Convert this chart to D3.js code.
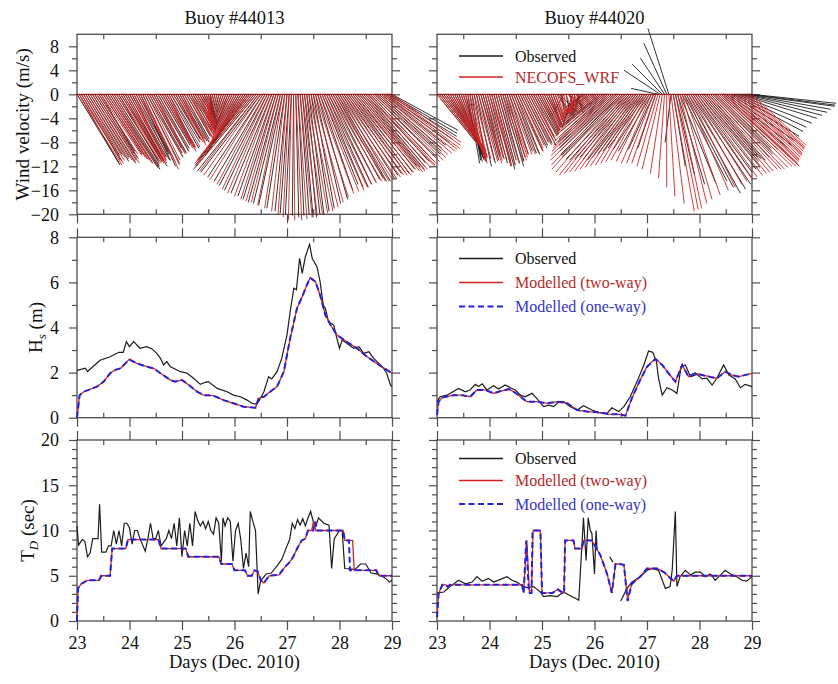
<!DOCTYPE html>
<html>
<head>
<meta charset="utf-8">
<script src="https://cdn.jsdelivr.net/npm/d3@7"></script>
<style>
  body { margin: 0; background: #fff; }
  svg text { font-family: "Liberation Serif", "DejaVu Serif", "Times New Roman", serif; }
</style>
</head>
<body>
<svg id="chart" width="838" height="684"></svg>
<script>
// ---- data ----
const buoys = ["Buoy #44013", "Buoy #44020"]
const days = [23, 24, 25, 26, 27, 28, 29]
const halfDays = [23.5, 24.5, 25.5, 26.5, 27.5, 28.5]
const windTicks = [-20, -16, -12, -8, -4, 0, 4, 8]
const windMinor = [-18, -14, -10, -6, -2, 2, 6]
const hsTicks = [0, 2, 4, 6, 8]
const hsMinor = [1, 3, 5, 7]
const tdTicks = [0, 5, 10, 15, 20]
const tdMinor = [1, 2, 3, 4, 6, 7, 8, 9, 11, 12, 13, 14, 16, 17, 18, 19]

// hourly wind sticks from Dec 23 00h to Dec 29 00h, [u, v] in m/s
const stickStart = 23, stickStepHours = 1
const wind44013Obs = [
  [7.0,-11.5],[6.8,-11.8],[6.5,-11.0],[6.0,-10.2],[6.0,-10.0],[6.8,-11.2],[6.5,-10.5],[7.2,-11.5],[7.0,-11.0],[6.2,-9.8],[6.0,-9.5],[6.0,-10.5],
  [6.5,-10.0],[7.0,-10.8],[7.5,-11.5],[8.0,-12.2],[8.0,-12.5],[7.5,-12.0],[7.0,-11.0],[6.8,-11.5],[6.5,-10.5],[6.5,-11.2],[7.0,-12.0],[6.0,-11.0],
  [5.5,-10.0],[5.8,-10.5],[6.0,-11.0],[5.5,-10.0],[5.0,-9.5],[5.0,-11.0],[5.5,-12.0],[5.8,-11.5],[6.0,-10.5],[5.5,-9.8],[5.0,-9.0],[5.5,-9.8],
  [5.5,-9.5],[5.2,-9.0],[5.0,-8.5],[4.8,-8.2],[4.5,-8.0],[4.8,-8.8],[5.0,-9.0],[4.8,-8.0],[4.5,-7.5],[4.2,-7.5],[4.0,-7.0],[4.5,-7.8],
  [4.5,-8.0],[4.2,-7.5],[4.0,-7.0],[4.2,-6.8],[4.0,-6.5],[3.8,-6.2],[3.5,-6.0],[3.2,-5.5],[3.0,-5.0],[2.5,-4.5],[2.0,-4.0],[1.5,-3.5],
  [1.0,-3.0],[0.2,-3.2],[-0.5,-3.5],[-0.8,-3.8],[-1.0,-4.0],[-1.2,-4.5],[-1.5,-5.0],[-1.8,-5.2],[-2.0,-5.5],[-2.2,-5.8],[-2.5,-5.5],[-2.8,-5.8],
  [-3.0,-6.0],[-3.2,-6.2],[-3.5,-6.5],[-4.2,-7.2],[-5.0,-8.0],[-6.0,-9.0],[-7.0,-10.0],[-8.2,-10.5],[-9.0,-11.0],[-9.8,-11.8],[-10.5,-12.5],[-10.2,-12.8],
  [-10.0,-13.0],[-9.2,-13.8],[-8.5,-14.5],[-8.0,-15.2],[-7.5,-16.0],[-6.8,-16.5],[-6.0,-17.0],[-5.5,-17.5],[-5.0,-18.0],[-4.5,-18.2],[-4.0,-18.5],[-3.0,-19.0],
  [-2.0,-19.5],[-1.5,-19.8],[-1.0,-20.0],[-0.2,-20.2],[0.5,-20.5],[1.0,-20.2],[1.5,-20.0],[1.8,-20.5],[2.0,-20.5],[2.2,-20.0],[2.5,-20.0],[3.0,-19.5],
  [3.5,-19.0],[4.2,-18.2],[5.0,-17.5],[5.5,-16.0],[6.0,-15.0],[6.5,-15.5],[7.0,-15.5],[7.2,-15.0],[7.5,-14.5],[7.8,-14.2],[8.0,-14.0],[8.2,-14.5],
  [8.5,-14.5],[8.8,-14.0],[9.0,-13.5],[9.2,-13.2],[9.5,-13.0],[9.8,-13.2],[10.0,-13.0],[10.0,-12.5],[10.0,-12.0],[10.2,-12.2],[10.5,-12.5],[10.2,-12.0],
  [10.0,-11.5],[10.2,-11.2],[10.5,-11.0],[10.8,-10.5],[11.0,-10.0],[10.8,-9.5],[10.5,-9.0],[10.8,-8.5],[11.0,-8.0],[11.2,-7.5],[11.5,-7.0],[11.2,-6.5],
  [11.0,-6.0]]
const wind44013Wrf = [
  [7.5,-11.8],[7.2,-11.2],[7.0,-11.5],[6.8,-11.0],[6.5,-10.5],[6.8,-10.8],[7.0,-11.0],[7.2,-11.2],[7.5,-11.5],[7.0,-10.8],[6.5,-10.0],[6.8,-10.2],
  [7.0,-10.5],[7.0,-10.8],[7.0,-11.0],[7.2,-11.5],[7.5,-12.0],[7.5,-11.8],[7.5,-11.5],[7.2,-11.2],[7.0,-11.0],[6.8,-11.2],[6.5,-11.5],[6.2,-11.0],
  [6.0,-10.5],[5.8,-11.0],[5.5,-11.5],[5.5,-10.8],[5.5,-10.0],[5.8,-11.2],[6.0,-12.5],[5.8,-11.8],[5.5,-11.0],[5.5,-10.2],[5.5,-9.5],[5.2,-9.8],
  [5.0,-10.0],[5.2,-9.5],[5.5,-9.0],[5.2,-8.8],[5.0,-8.5],[4.8,-9.0],[4.5,-9.5],[4.8,-8.8],[5.0,-8.0],[4.8,-7.8],[4.5,-7.5],[4.2,-8.0],
  [4.0,-8.5],[4.2,-8.0],[4.5,-7.5],[4.0,-7.2],[3.5,-7.0],[3.5,-6.8],[3.5,-6.5],[3.0,-6.0],[2.5,-5.5],[2.0,-5.0],[1.5,-4.5],[1.0,-4.0],
  [0.5,-3.5],[-0.2,-3.8],[-1.0,-4.0],[-1.2,-4.2],[-1.5,-4.5],[-1.8,-5.0],[-2.0,-5.5],[-2.2,-5.8],[-2.5,-6.0],[-2.8,-6.0],[-3.0,-6.0],[-3.2,-6.2],
  [-3.5,-6.5],[-4.0,-7.0],[-4.5,-7.5],[-5.2,-8.2],[-6.0,-9.0],[-7.0,-9.8],[-8.0,-10.5],[-8.8,-11.0],[-9.5,-11.5],[-9.8,-11.8],[-10.0,-12.0],[-9.8,-12.8],
  [-9.5,-13.5],[-8.8,-14.2],[-8.0,-15.0],[-7.5,-15.8],[-7.0,-16.5],[-6.2,-17.0],[-5.5,-17.5],[-5.0,-17.8],[-4.5,-18.0],[-3.8,-18.5],[-3.0,-19.0],[-2.2,-19.5],
  [-1.5,-20.0],[-1.0,-20.5],[-0.5,-21.0],[0.2,-21.0],[1.0,-21.0],[1.5,-20.8],[2.0,-20.5],[2.5,-20.2],[3.0,-20.0],[3.5,-19.8],[4.0,-19.5],[4.5,-18.8],
  [5.0,-18.0],[5.5,-17.2],[6.0,-16.5],[6.5,-16.2],[7.0,-16.0],[7.2,-15.5],[7.5,-15.0],[8.0,-14.8],[8.5,-14.5],[8.8,-14.5],[9.0,-14.5],[9.2,-14.2],
  [9.5,-14.0],[9.8,-13.8],[10.0,-13.5],[10.2,-13.5],[10.5,-13.5],[10.5,-13.0],[10.5,-12.5],[10.8,-12.8],[11.0,-13.0],[11.0,-12.8],[11.0,-12.5],[11.2,-12.2],
  [11.5,-12.0],[11.2,-11.8],[11.0,-11.5],[11.2,-11.2],[11.5,-11.0],[11.5,-10.5],[11.5,-10.0],[11.8,-9.8],[12.0,-9.5],[12.0,-9.2],[12.0,-9.0],[11.8,-8.5],
  [11.5,-8.0]]
const wind44020Obs = [
  [6.5,-8.0],[6.8,-8.5],[7.0,-9.0],[6.5,-8.8],[6.0,-8.5],[5.8,-9.0],[5.5,-9.5],[5.2,-9.8],[5.0,-10.0],[4.5,-10.2],[4.0,-10.5],[3.8,-10.8],
  [3.5,-11.0],[2.8,-11.2],[2.0,-11.5],[1.8,-11.0],[1.5,-10.5],[2.0,-11.2],[2.5,-12.0],[2.8,-11.5],[3.0,-11.0],[2.8,-10.5],[2.5,-10.0],[2.8,-10.8],
  [3.0,-11.5],[3.2,-12.0],[3.5,-12.5],[3.2,-11.8],[3.0,-11.0],[3.2,-11.5],[3.5,-12.0],[3.2,-11.2],[3.0,-10.5],[3.2,-10.0],[3.5,-9.5],[3.8,-9.8],
  [4.0,-10.0],[4.2,-9.5],[4.5,-9.0],[4.2,-8.5],[4.0,-8.0],[4.2,-8.2],[4.5,-8.5],[4.2,-7.8],[4.0,-7.0],[3.8,-6.8],[3.5,-6.5],[3.2,-6.2],
  [3.0,-6.0],[2.8,-5.5],[2.5,-5.0],[2.2,-5.2],[2.0,-5.5],[1.8,-4.8],[1.5,-4.0],[2.5,-3.5],[3.0,-3.0],[0.5,-3.2],[-2.0,-3.5],[0.5,-2.5],
  [2.5,-2.0],[0.5,-3.0],[-1.5,-4.5],[-0.5,-3.5],[1.0,-3.0],[-1.0,-3.5],[-2.5,-3.5],[-3.5,-2.5],[-3.0,-2.0],[-3.5,-2.8],[-4.0,-3.0],[-4.5,-3.5],
  [-5.0,-4.0],[-5.5,-4.5],[-6.0,-5.0],[-6.5,-5.2],[-7.0,-5.5],[-7.5,-6.2],[-8.0,-7.0],[-8.5,-7.5],[-9.0,-8.0],[-9.2,-8.5],[-9.5,-9.0],[-9.8,-9.5],
  [-10.0,-10.0],[-10.2,-10.2],[-10.5,-10.5],[-10.2,-10.8],[-10.0,-11.0],[-9.5,-10.8],[-9.0,-10.5],[-8.8,-10.8],[-8.5,-11.0],[-8.0,-10.5],[-7.5,-10.0],[-7.0,-9.5],
  [-6.5,-9.0],[-6.0,-9.2],[-5.5,-9.5],[-4.2,-9.2],[-3.0,-9.0],[-4.5,1.0],[-6.0,4.0],[-5.0,5.0],[-4.0,6.0],[-3.8,8.5],[-3.5,11.0],[-1.0,-8.0],
  [2.0,-12.0],[3.2,-13.5],[4.5,-15.0],[6.0,-14.8],[7.5,-14.5],[8.2,-15.5],[9.0,-16.5],[9.5,-15.8],[10.0,-15.0],[9.8,-14.0],[9.5,-13.0],[9.8,-12.5],
  [10.0,-12.0],[9.5,-11.2],[9.0,-10.5],[9.2,-10.8],[9.5,-11.0],[9.8,-10.5],[10.0,-10.0],[9.5,-9.5],[9.0,-9.0],[9.8,-9.2],[10.5,-9.5],[10.8,-9.0],
  [11.0,-8.5],[11.2,-7.8],[11.5,-7.0],[11.8,-6.2],[12.0,-5.5],[12.5,-4.8],[13.0,-4.0],[13.5,-3.5],[14.0,-3.0],[14.2,-2.5],[14.5,-2.0],[14.2,-1.8],
  [14.0,-1.5]]
const wind44020Wrf = [
  [7.0,-8.5],[7.2,-9.0],[7.5,-9.5],[7.0,-9.2],[6.5,-9.0],[6.2,-9.5],[6.0,-10.0],[5.8,-10.2],[5.5,-10.5],[5.0,-10.8],[4.5,-11.0],[4.2,-11.2],
  [4.0,-11.5],[3.5,-11.2],[3.0,-11.0],[2.8,-10.8],[2.5,-10.5],[2.8,-10.8],[3.0,-11.0],[3.2,-11.2],[3.5,-11.5],[3.2,-11.0],[3.0,-10.5],[3.2,-10.8],
  [3.5,-11.0],[3.2,-11.5],[3.0,-12.0],[3.2,-11.8],[3.5,-11.5],[3.8,-11.2],[4.0,-11.0],[3.8,-10.5],[3.5,-10.0],[3.8,-10.0],[4.0,-10.0],[4.2,-9.8],
  [4.5,-9.5],[4.2,-9.0],[4.0,-8.5],[4.2,-8.5],[4.5,-8.5],[4.2,-8.0],[4.0,-7.5],[3.8,-7.2],[3.5,-7.0],[3.5,-6.5],[3.5,-6.0],[3.2,-5.8],
  [3.0,-5.5],[2.8,-5.2],[2.5,-5.0],[2.2,-4.8],[2.0,-4.5],[1.8,-4.2],[1.5,-4.0],[1.2,-3.8],[1.0,-3.5],[0.8,-3.2],[0.5,-3.0],[1.0,-2.8],
  [1.5,-2.5],[0.5,-3.0],[-0.5,-3.5],[-1.0,-3.2],[-1.5,-3.0],[-2.2,-3.0],[-3.0,-3.0],[-3.5,-3.2],[-4.0,-3.5],[-4.5,-3.8],[-5.0,-4.0],[-5.5,-4.5],
  [-6.0,-5.0],[-6.5,-5.5],[-7.0,-6.0],[-7.5,-6.5],[-8.0,-7.0],[-8.5,-7.8],[-9.0,-8.5],[-9.5,-9.0],[-10.0,-9.5],[-10.5,-10.2],[-11.0,-11.0],[-11.2,-11.8],
  [-11.5,-12.5],[-11.2,-13.0],[-11.0,-13.5],[-10.5,-13.2],[-10.0,-13.0],[-9.5,-12.8],[-9.0,-12.5],[-8.5,-12.2],[-8.0,-12.0],[-7.5,-11.8],[-7.0,-11.5],[-6.5,-11.2],
  [-6.0,-11.0],[-5.5,-11.2],[-5.0,-11.5],[-4.5,-11.5],[-4.0,-11.5],[-3.5,-12.0],[-3.0,-12.5],[-2.0,-13.2],[-1.0,-14.0],[0.0,-15.5],[1.0,-17.0],[2.2,-18.2],
  [3.5,-19.5],[3.8,-19.2],[4.0,-19.0],[4.5,-18.2],[5.0,-17.5],[6.0,-16.8],[7.0,-16.0],[7.8,-15.5],[8.5,-15.0],[9.0,-14.5],[9.5,-14.0],[10.0,-13.8],
  [10.5,-13.5],[10.8,-13.2],[11.0,-13.0],[11.2,-12.8],[11.5,-12.5],[11.8,-12.5],[12.0,-12.5],[12.2,-12.2],[12.5,-12.0],[12.8,-12.0],[13.0,-12.0],[12.5,-11.8],
  [12.0,-11.5],[11.8,-11.2],[11.5,-11.0],[11.2,-10.8],[11.0,-10.5],[10.8,-10.2],[10.5,-10.0],[10.2,-9.8],[10.0,-9.5],[9.8,-9.2],[9.5,-9.0],[9.2,-8.8],
  [9.0,-8.5]]

// significant wave height, [day, m]
const hs44013Obs = [[23.0,2.1],[23.16,2.2],[23.2,2.05],[23.44,2.55],[23.63,2.7],[23.8,2.9],[23.88,2.9],[23.94,3.37],[24.0,3.15],[24.08,3.37],[24.2,3.08],[24.33,3.15],
  [24.43,3.05],[24.52,2.85],[24.59,2.63],[24.65,2.34],[24.71,2.49],[24.78,2.26],[24.97,2.04],[25.1,1.97],[25.22,1.75],[25.35,1.48],[25.44,1.57],[25.5,1.6],
  [25.67,1.3],[25.86,1.15],[25.98,1.0],[26.11,0.93],[26.24,0.78],[26.33,0.64],[26.4,0.6],[26.46,0.71],[26.56,1.15],[26.65,1.82],[26.71,1.72],[26.81,2.04],
  [26.9,2.63],[27.0,3.67],[27.06,4.7],[27.13,5.74],[27.18,5.67],[27.24,7.07],[27.29,6.4],[27.35,7.14],[27.43,7.69],[27.48,7.07],[27.57,6.7],[27.63,6.04],
  [27.69,5.0],[27.73,4.85],[27.79,4.26],[27.89,4.11],[27.95,3.52],[28.0,3.08],[28.05,3.45],[28.14,3.3],[28.27,3.08],[28.37,3.15],[28.46,2.85],[28.56,2.93],
  [28.65,2.63],[28.75,2.41],[28.84,2.19],[28.9,1.97],[28.97,1.45],[29.0,1.38]]
const hs44013Two = [[23.0,0.0],[23.05,1.0],[23.13,1.15],[23.38,1.38],[23.51,1.6],[23.63,1.97],[23.73,2.12],[23.83,2.19],[23.92,2.41],[24.0,2.6],[24.14,2.41],[24.33,2.26],
  [24.46,2.19],[24.59,1.97],[24.78,1.67],[24.87,1.6],[25.0,1.67],[25.13,1.45],[25.29,1.15],[25.41,1.0],[25.6,0.98],[25.79,0.78],[25.98,0.64],[26.17,0.49],
  [26.4,0.44],[26.46,0.86],[26.56,0.93],[26.68,1.15],[26.81,1.38],[26.94,2.04],[27.06,3.52],[27.19,4.85],[27.29,5.37],[27.38,5.89],[27.44,6.21],[27.54,6.04],
  [27.63,5.44],[27.73,4.56],[27.83,4.11],[27.95,3.67],[28.14,3.37],[28.33,3.08],[28.52,2.71],[28.71,2.41],[28.9,2.12],[29.0,1.97]]
const hs44013One = [[23.0,0.0],[23.05,1.0],[23.13,1.15],[23.38,1.38],[23.51,1.6],[23.63,1.97],[23.73,2.12],[23.83,2.19],[23.92,2.41],[24.0,2.58],[24.14,2.41],[24.33,2.26],
  [24.46,2.19],[24.59,1.97],[24.78,1.67],[24.87,1.6],[25.0,1.67],[25.13,1.45],[25.29,1.15],[25.41,1.0],[25.6,0.98],[25.79,0.78],[25.98,0.64],[26.17,0.49],
  [26.4,0.44],[26.46,0.86],[26.56,0.93],[26.68,1.15],[26.81,1.38],[26.94,2.04],[27.06,3.52],[27.19,4.85],[27.29,5.37],[27.38,5.89],[27.44,6.2],[27.54,6.04],
  [27.63,5.44],[27.73,4.56],[27.83,4.11],[27.95,3.67],[28.14,3.37],[28.33,3.08],[28.52,2.71],[28.71,2.41],[28.9,2.12],[29.0,1.97]]
const hs44020Obs = [[23.0,0.71],[23.06,0.93],[23.19,1.0],[23.41,1.3],[23.54,1.15],[23.63,1.23],[23.73,1.48],[23.79,1.38],[23.86,1.5],[23.95,1.23],[24.08,1.42],[24.17,1.27],
  [24.3,1.45],[24.4,1.33],[24.49,1.23],[24.59,1.0],[24.68,0.93],[24.81,1.08],[24.9,0.86],[25.03,0.49],[25.13,0.56],[25.22,0.49],[25.32,0.71],[25.41,0.71],
  [25.54,0.49],[25.67,0.34],[25.79,0.53],[25.95,0.34],[26.08,0.24],[26.24,0.19],[26.33,0.44],[26.46,0.27],[26.56,0.49],[26.68,0.93],[26.81,1.6],[26.94,2.34],
  [27.03,2.96],[27.11,2.9],[27.18,2.49],[27.22,1.75],[27.29,1.0],[27.38,1.33],[27.48,1.23],[27.57,1.08],[27.65,2.26],[27.73,2.34],[27.83,1.82],[27.95,1.92],
  [28.05,1.72],[28.14,1.75],[28.24,1.45],[28.33,1.75],[28.46,2.34],[28.56,1.89],[28.68,1.72],[28.78,1.33],[28.87,1.48],[29.0,1.38]]
const hs44020Two = [[23.0,0.12],[23.03,0.71],[23.1,0.89],[23.32,1.0],[23.48,1.0],[23.63,0.93],[23.76,1.23],[23.92,1.23],[24.08,1.08],[24.17,1.15],[24.37,1.27],[24.46,1.15],
  [24.59,0.93],[24.71,0.71],[24.9,0.71],[25.1,0.64],[25.29,0.71],[25.48,0.64],[25.67,0.34],[25.86,0.27],[26.05,0.24],[26.27,0.16],[26.46,0.15],[26.59,0.09],
  [26.71,0.86],[26.87,1.67],[27.0,2.26],[27.16,2.63],[27.29,2.34],[27.41,1.97],[27.54,1.6],[27.67,2.34],[27.79,1.82],[27.92,1.97],[28.05,1.89],[28.21,1.82],
  [28.33,1.75],[28.49,2.04],[28.62,1.89],[28.75,1.82],[29.0,1.97]]
const hs44020One = [[23.0,0.12],[23.03,0.71],[23.1,0.89],[23.32,1.0],[23.48,1.0],[23.63,0.93],[23.76,1.23],[23.92,1.23],[24.08,1.08],[24.17,1.15],[24.37,1.27],[24.46,1.15],
  [24.59,0.93],[24.71,0.71],[24.9,0.71],[25.1,0.64],[25.29,0.71],[25.48,0.64],[25.67,0.34],[25.86,0.27],[26.05,0.24],[26.27,0.16],[26.46,0.15],[26.59,0.09],
  [26.71,0.86],[26.87,1.67],[27.0,2.26],[27.16,2.6],[27.29,2.34],[27.41,1.97],[27.54,1.6],[27.67,2.34],[27.79,1.82],[27.92,1.97],[28.05,1.89],[28.21,1.8],
  [28.33,1.75],[28.49,2.04],[28.62,1.89],[28.75,1.82],[29.0,1.97]]

// dominant wave period, [day, s]; null marks a gap in the record
const td44013Obs = [[23.0,10.5],[23.03,8.4],[23.1,9.0],[23.15,8.8],[23.2,7.1],[23.25,7.5],[23.3,9.1],[23.4,9.1],[23.43,12.9],[23.47,7.6],[23.55,7.6],[23.6,8.3],
  [23.65,8.3],[23.7,10.0],[23.75,8.5],[23.8,10.0],[23.85,8.3],[23.9,10.8],[23.95,10.8],[24.0,10.3],[24.05,8.5],[24.1,10.0],[24.15,10.0],[24.2,9.1],
  [24.3,7.7],[24.35,9.1],[24.4,10.8],[24.45,9.1],[24.5,9.1],[24.55,10.0],[24.6,8.3],[24.7,9.1],[24.75,10.0],[24.8,9.1],[24.85,10.8],[24.9,8.3],
  [24.95,11.4],[25.0,7.1],[25.05,10.0],[25.1,8.3],[25.15,10.8],[25.2,8.3],[25.25,12.1],[25.3,11.1],[25.35,10.5],[25.4,11.0],[25.45,10.2],[25.5,11.0],
  [25.55,10.0],[25.6,9.6],[25.65,11.4],[25.7,10.8],[25.75,6.6],[25.78,11.4],[25.82,10.5],[25.87,11.4],[25.92,11.0],[25.97,6.6],[26.02,10.0],[26.07,10.8],
  [26.12,9.0],[26.17,5.8],[26.22,7.5],[26.27,6.0],[26.3,12.1],[26.35,11.0],[26.4,10.0],[26.45,3.0],[26.5,4.5],[26.55,4.8],[26.6,5.2],[26.7,5.3],
  [26.8,6.0],[26.9,6.8],[27.0,8.3],[27.05,9.0],[27.1,10.8],[27.15,10.2],[27.2,11.2],[27.25,10.6],[27.3,11.3],[27.35,10.5],[27.4,11.4],[27.45,12.1],
  [27.5,11.0],[27.55,10.5],[27.6,11.4],[27.7,10.8],[27.8,10.6],[27.85,5.8],[27.9,9.1],[28.0,10.0],[28.05,10.0],[28.1,5.8],[28.3,5.7],[28.4,6.3],
  [28.5,6.3],[28.6,5.3],[28.7,5.2],[28.8,5.0],[28.9,4.6],[28.95,4.3],[29.0,4.5]]
const td44013Two = [[23.0,0],[23.02,3.6],[23.08,4.1],[23.2,4.5],[23.42,4.5],[23.46,5.0],[23.63,5.0],[23.67,8.0],[23.93,8.0],[23.97,9.0],[24.55,9.0],[24.6,8.0],
  [25.07,8.0],[25.12,7.1],[25.7,7.1],[25.75,6.3],[25.95,6.3],[26.0,5.6],[26.2,5.6],[26.25,5.0],[26.33,5.0],[26.38,5.6],[26.44,5.5],[26.5,4.5],
  [26.56,4.2],[26.66,5.0],[26.85,5.1],[26.95,5.9],[27.05,6.5],[27.12,7.1],[27.2,8.1],[27.28,8.9],[27.35,9.1],[27.4,10.0],[27.47,10.0],[27.5,10.9],
  [27.55,10.0],[28.07,10.0],[28.1,8.9],[28.25,8.9],[28.28,5.6],[28.7,5.6],[28.75,5.0],[29.0,5.0]]
const td44013One = [[23.0,0],[23.02,3.6],[23.08,4.1],[23.2,4.5],[23.42,4.5],[23.46,5.0],[23.63,5.0],[23.67,8.0],[23.93,8.0],[23.97,9.0],[24.55,9.0],[24.6,8.0],
  [25.07,8.0],[25.12,7.1],[25.7,7.1],[25.75,6.3],[25.95,6.3],[26.0,5.6],[26.2,5.6],[26.25,5.0],[26.33,5.0],[26.38,5.6],[26.44,5.5],[26.5,4.5],
  [26.56,4.2],[26.66,5.0],[26.85,5.1],[26.95,5.9],[27.05,6.5],[27.12,7.1],[27.2,8.1],[27.28,8.9],[27.35,9.1],[27.4,10.0],[27.5,10.0],[27.54,11.0],
  [27.58,10.0],[28.07,10.0],[28.1,8.9],[28.18,8.9],[28.2,5.6],[28.7,5.6],[28.75,5.0],[29.0,5.0]]
const td44020Obs = [[23.0,3.1],[23.13,3.2],[23.25,3.8],[23.41,4.5],[23.54,4.1],[23.67,4.3],[23.76,4.9],[23.86,4.4],[23.98,4.7],[24.08,4.3],[24.21,4.6],[24.33,4.9],
  [24.43,4.5],[24.52,4.3],[24.62,3.9],[24.71,3.7],[24.84,3.8],[24.97,3.2],[25.03,2.7],[25.16,2.8],[25.29,2.7],[25.41,3.2],[25.54,2.8],[25.67,2.4],
  [25.7,2.3],[25.79,11.4],[25.84,6.7],[25.88,11.4],[25.92,10.0],[25.95,9.7],[26.0,5.2],[26.03,10.0],[26.05,7.8],[26.1,null],
  [26.29,7.1],[26.35,6.5],[26.4,null],
  [26.5,2.2],[26.62,3.6],[26.71,4.3],[26.87,4.9],[27.0,5.6],[27.1,5.8],[27.22,5.6],[27.35,3.6],[27.44,3.8],[27.48,5.6],[27.54,12.1],[27.57,3.8],
  [27.63,4.9],[27.73,5.6],[27.83,5.1],[27.92,5.4],[28.02,5.4],[28.11,4.9],[28.21,5.2],[28.3,4.5],[28.4,5.1],[28.49,5.6],[28.59,5.2],[28.71,4.9],
  [28.81,4.5],[28.9,4.4],[29.0,4.9]]
const td44020Two = [[23.0,0.4],[23.03,3.0],[23.1,4.0],[23.17,4.0],[23.2,3.8],[23.25,4.0],[24.62,4.0],[24.65,3.1],[24.71,8.9],[24.76,3.1],[24.8,3.1],[24.83,10.0],
  [24.97,10.0],[25.0,3.1],[25.2,3.1],[25.3,3.5],[25.4,3.1],[25.42,3.1],[25.44,8.9],[25.6,8.9],[25.63,8.0],[25.76,8.0],[25.79,8.9],[25.95,8.9],
  [26.11,7.3],[26.24,5.2],[26.33,3.1],[26.4,6.3],[26.47,6.3],[26.56,6.2],[26.63,2.4],[26.71,4.1],[26.87,4.9],[27.0,5.8],[27.19,5.8],[27.32,5.4],
  [27.51,4.4],[27.57,5.0],[29.0,5.0]]
const td44020One = [[23.0,0.4],[23.03,3.0],[23.1,4.0],[23.17,4.0],[23.2,3.8],[23.25,4.0],[24.62,4.0],[24.65,3.1],[24.7,8.9],[24.75,3.1],[24.8,3.1],[24.82,10.0],
  [24.97,10.0],[25.0,3.1],[25.2,3.1],[25.3,3.5],[25.4,3.1],[25.42,3.1],[25.44,8.9],[25.6,8.9],[25.63,8.0],[25.76,8.0],[25.79,8.9],[25.95,8.9],
  [26.11,7.3],[26.24,5.2],[26.33,3.1],[26.4,6.3],[26.47,6.3],[26.56,6.2],[26.63,2.2],[26.71,4.1],[26.87,4.9],[27.0,5.8],[27.19,5.8],[27.32,5.4],
  [27.51,4.4],[27.57,5.0],[29.0,5.0]]

// ---- drawing ----
const serif = '"Liberation Serif", "DejaVu Serif", "Times New Roman", serif'
const obsColor = "#1c1c1c", twoColor = "#d42222", oneColor = "#2323dd"
const frameColor = "#4d4d4d"
const svg = d3.select("#chart").attr("font-family", serif)

const cols = [[77, 392], [437, 752]]
const rows = [
  { top: 34.3, bottom: 214.3, domain: [-20, 10], major: windTicks, minor: windMinor, topTicks: false },
  { top: 237.3, bottom: 417.7, domain: [0, 8], major: hsTicks, minor: hsMinor, topTicks: true },
  { top: 440, bottom: 621, domain: [0, 20], major: tdTicks, minor: tdMinor, topTicks: true }
]

function styleAxis(sel) {
  sel.attr("font-family", serif)
  sel.select(".domain").remove()
  sel.selectAll("line").attr("stroke", frameColor).attr("stroke-width", 1.2)
  sel.selectAll("text").attr("font-family", serif).attr("font-size", 18).attr("fill", "#111")
}

function makePanel(ci, ri) {
  const row = rows[ri]
  const x = d3.scaleLinear().domain([23, 29]).range(cols[ci])
  const y = d3.scaleLinear().domain(row.domain).range([row.bottom, row.top])
  const g = svg.append("g")
  const [x0, x1] = cols[ci]
  const noLabel = () => ""

  g.append("g").attr("transform", `translate(${x0},0)`)
    .call(d3.axisLeft(y).tickValues(row.major).tickSize(8).tickPadding(10)
      .tickFormat(ci === 0 ? d3.format("") : noLabel)).call(styleAxis)
  g.append("g").attr("transform", `translate(${x0},0)`)
    .call(d3.axisLeft(y).tickValues(row.minor).tickSize(5).tickFormat(noLabel)).call(styleAxis)
  g.append("g").attr("transform", `translate(${x1},0)`)
    .call(d3.axisRight(y).tickValues(row.major).tickSize(8).tickFormat(noLabel)).call(styleAxis)
  g.append("g").attr("transform", `translate(${x1},0)`)
    .call(d3.axisRight(y).tickValues(row.minor).tickSize(5).tickFormat(noLabel)).call(styleAxis)

  g.append("g").attr("transform", `translate(0,${row.bottom})`)
    .call(d3.axisBottom(x).tickValues(days).tickSize(9).tickPadding(6)
      .tickFormat(ri === 2 ? d3.format("d") : noLabel)).call(styleAxis)
  g.append("g").attr("transform", `translate(0,${row.bottom})`)
    .call(d3.axisBottom(x).tickValues(halfDays).tickSize(-5).tickFormat(noLabel)).call(styleAxis)
  if (row.topTicks) {
    g.append("g").attr("transform", `translate(0,${row.top})`)
      .call(d3.axisTop(x).tickValues(days).tickSize(9).tickFormat(noLabel)).call(styleAxis)
  }
  g.append("g").attr("transform", `translate(0,${row.top})`)
    .call(d3.axisTop(x).tickValues(halfDays).tickSize(-5).tickFormat(noLabel)).call(styleAxis)

  g.append("rect")
    .attr("x", x0).attr("y", row.top)
    .attr("width", x1 - x0).attr("height", row.bottom - row.top)
    .attr("fill", "none").attr("stroke", frameColor).attr("stroke-width", 1.3)

  return { g, x, y }
}

function drawSticks(p, obs, wrf) {
  const k = p.y(0) - p.y(1)  // pixels per m/s, same in both directions
  const toStick = c => (d, i) => ({ t: stickStart + i * stickStepHours / 24, u: d[0], v: d[1], c })
  // observed first, model drawn on top of it
  const sticks = obs.map(toStick(obsColor)).concat(wrf.map(toStick(twoColor)))
  p.g.append("line")
    .attr("x1", p.x(23)).attr("x2", p.x(29))
    .attr("y1", p.y(0)).attr("y2", p.y(0))
    .attr("stroke", "#9a1c1c").attr("stroke-width", 1.2)
  p.g.append("g").selectAll("line")
    .data(sticks)
    .join("line")
    .attr("x1", d => p.x(d.t))
    .attr("y1", p.y(0))
    .attr("x2", d => p.x(d.t) + d.u * k)
    .attr("y2", d => p.y(d.v))
    .attr("stroke", d => d.c)
    .attr("stroke-width", 0.9)
}

function drawLines(p, obs, two, one) {
  const line = d3.line()
    .defined(d => d[1] != null)
    .x(d => p.x(d[0]))
    .y(d => p.y(d[1]))
  p.g.append("path").attr("d", line(obs))
    .attr("fill", "none").attr("stroke", obsColor).attr("stroke-width", 1.2)
  p.g.append("path").attr("d", line(two))
    .attr("fill", "none").attr("stroke", twoColor).attr("stroke-width", 1.3)
  p.g.append("path").attr("d", line(one))
    .attr("fill", "none").attr("stroke", oneColor).attr("stroke-width", 2)
    .attr("stroke-dasharray", "6,3.5")
}

function drawLegend(p, items, ys) {
  const x0 = p.x.range()[0]
  items.forEach((it, i) => {
    p.g.append("line")
      .attr("x1", x0 + 22).attr("x2", x0 + 66)
      .attr("y1", ys[i]).attr("y2", ys[i])
      .attr("stroke", it.color).attr("stroke-width", it.dash ? 2 : 1.3)
      .attr("stroke-dasharray", it.dash ? "6,3.5" : null)
    p.g.append("text")
      .attr("x", x0 + 78).attr("y", ys[i] + 5.5)
      .attr("font-family", serif).attr("font-size", 16).attr("fill", it.text)
      .text(it.name)
  })
}

const panels = cols.map((c, ci) => rows.map((r, ri) => makePanel(ci, ri)))

drawSticks(panels[0][0], wind44013Obs, wind44013Wrf)
drawSticks(panels[1][0], wind44020Obs, wind44020Wrf)
drawLines(panels[0][1], hs44013Obs, hs44013Two, hs44013One)
drawLines(panels[1][1], hs44020Obs, hs44020Two, hs44020One)
drawLines(panels[0][2], td44013Obs, td44013Two, td44013One)
drawLines(panels[1][2], td44020Obs, td44020Two, td44020One)

const windLegend = [
  { name: "Observed", color: obsColor, text: "#111" },
  { name: "NECOFS_WRF", color: twoColor, text: "#b82828" }
]
const waveLegend = [
  { name: "Observed", color: obsColor, text: "#111" },
  { name: "Modelled (two-way)", color: twoColor, text: "#b82828" },
  { name: "Modelled (one-way)", color: oneColor, text: "#3434c4", dash: true }
]
drawLegend(panels[1][0], windLegend, [56, 77])
drawLegend(panels[1][1], waveLegend, [258.5, 282.5, 306.5])
drawLegend(panels[1][2], waveLegend, [458.5, 480.5, 504])

// titles and axis labels
cols.forEach((c, ci) => {
  svg.append("text")
    .attr("x", (c[0] + c[1]) / 2).attr("y", 24)
    .attr("text-anchor", "middle").attr("font-size", 18.5).attr("fill", "#111")
    .text(buoys[ci])
  svg.append("text")
    .attr("x", (c[0] + c[1]) / 2).attr("y", 668)
    .attr("text-anchor", "middle").attr("font-size", 18.5).attr("fill", "#111")
    .text("Days (Dec. 2010)")
})

function yLabel(xPos, row, parts) {
  const t = svg.append("text")
    .attr("transform", `translate(${xPos},${(row.top + row.bottom) / 2}) rotate(-90)`)
    .attr("text-anchor", "middle").attr("font-size", 19).attr("fill", "#111")
  parts.forEach(p => {
    const s = t.append("tspan").text(p.s)
    if (p.sub) s.attr("font-size", 13).attr("font-style", "italic").attr("dy", 4)
    if (p.back) s.attr("dy", -4)
  })
}
yLabel(29, rows[0], [{ s: "Wind velocity (m/s)" }])
yLabel(42, rows[1], [{ s: "H" }, { s: "s", sub: true }, { s: " (m)", back: true }])
yLabel(34, rows[2], [{ s: "T" }, { s: "D", sub: true }, { s: " (sec)", back: true }])
</script>
</body>
</html>
